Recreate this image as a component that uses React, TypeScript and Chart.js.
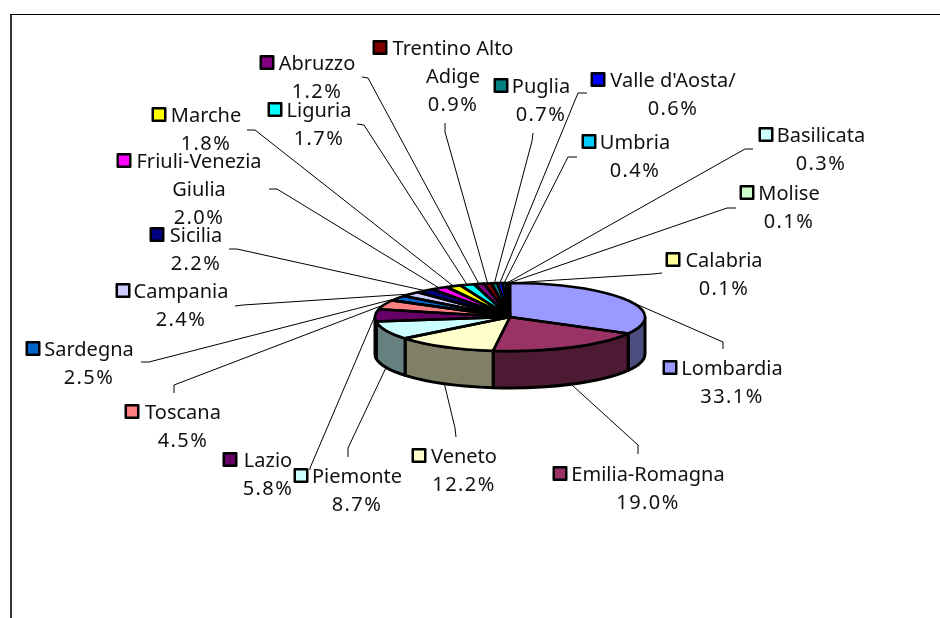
import React, { useEffect, useRef } from "react";
import { Chart, registerables } from "chart.js";

Chart.register(...registerables);

const categories = ["Lombardia","Emilia-Romagna","Veneto","Piemonte","Lazio","Toscana","Sardegna","Campania","Sicilia","Friuli-Venezia Giulia","Marche","Liguria","Abruzzo","Trentino Alto Adige","Puglia","Valle d'Aosta/","Umbria","Basilicata","Molise","Calabria"];
const shareValues = [33.1,19.0,12.2,8.7,5.8,4.5,2.5,2.4,2.2,2.0,1.8,1.7,1.2,0.9,0.7,0.6,0.4,0.3,0.1,0.1];
const percentLabels = ["33.1%","19.0%","12.2%","8.7%","5.8%","4.5%","2.5%","2.4%","2.2%","2.0%","1.8%","1.7%","1.2%","0.9%","0.7%","0.6%","0.4%","0.3%","0.1%","0.1%"];
const nameLines: string[][] = [["Lombardia"],["Emilia-Romagna"],["Veneto"],["Piemonte"],["Lazio"],["Toscana"],["Sardegna"],["Campania"],["Sicilia"],["Friuli-Venezia","Giulia"],["Marche"],["Liguria"],["Abruzzo"],["Trentino Alto","Adige"],["Puglia"],["Valle d'Aosta/"],["Umbria"],["Basilicata"],["Molise"],["Calabria"]];
const sliceColors = ["#9999FF","#993366","#FFFFCC","#CCFFFF","#660066","#FF8080","#0066CC","#CCCCFF","#000080","#FF00FF","#FFFF00","#00FFFF","#800080","#800000","#008080","#0000FF","#00CCFF","#CCFFFF","#CCFFCC","#FFFF99"];

// layout: [text centre x, first line centre y, key centre x]
const labelPlaces: number[][] = [[732,368,670],[648,474,560],[464,456,419],[357,476,301],[268,460,230],[183,412,132],[89,349,33],[181,291,123],[196,235,157],[199,161,124],[206,115,159],[319,110,275],[317,63,267],[453,48,380],[541,86,501],[673,80,598],[635,142,589],[821,135,766],[789,193,747],[724,260,673]];
// layout: leader stub, outer end then elbow
const leaderStubs: number[][] = [[723,349,723,342],[638,454,638,445],[456,437,455,428],[348,457,348,448],[310,470,310,468],[174,393,174,385],[141,362,149,362],[235,306,243,305],[229,249,237,249],[269,189,277,189],[247,130,255,130],[357,124,364,125],[362,77,368,78],[445,123,445,132],[533,133,532,141],[587,93,578,93],[577,157,568,157],[753,149,745,149],[736,208,727,208],[662,273,653,274]];

const CX = 510, CY = 317, RX = 135, RY = 34, DEPTH = 37;
const FONT = '20px "Noto Sans"';
const LINE_H = 28;

function halfShade(hex: string) {
  const n = parseInt(hex.slice(1), 16);
  const c = (v: number) => Math.round(v * 0.5);
  return `rgb(${c((n >> 16) & 255)},${c((n >> 8) & 255)},${c(n & 255)})`;
}

const pie3d = {
  id: "pie3d",
  beforeDatasetsDraw(chart: any) {
    const ctx = chart.ctx as CanvasRenderingContext2D;
    const arcs = chart.getDatasetMeta(0).data;
    // frame
    ctx.save();
    ctx.strokeStyle = "#333333";
    ctx.lineWidth = 2;
    ctx.beginPath(); ctx.moveTo(11, 618); ctx.lineTo(11, 14); ctx.stroke();
    ctx.strokeStyle = "#000000";
    ctx.lineWidth = 1;
    ctx.beginPath(); ctx.moveTo(10, 14.5); ctx.lineTo(940, 14.5); ctx.stroke();
    // leaders
    ctx.strokeStyle = "#000";
    ctx.lineWidth = 1;
    arcs.forEach((arc: any, i: number) => {
      const mid = (arc.startAngle + arc.endAngle) / 2;
      const c = Math.sin(mid);
      const px = CX + RX * Math.cos(mid);
      const py = CY + RY * c + (c > 0 ? DEPTH : 0);
      const s = leaderStubs[i];
      ctx.beginPath();
      ctx.moveTo(s[0], s[1]); ctx.lineTo(s[2], s[3]); ctx.lineTo(px, py);
      ctx.stroke();
    });
    // walls
    ctx.lineWidth = 3;
    ctx.strokeStyle = "#000";
    ctx.lineJoin = "round";
    arcs.forEach((arc: any, i: number) => {
      const twoPi = Math.PI * 2;
      for (const shift of [0, twoPi, -twoPi]) {
        const a = Math.max(arc.startAngle + shift, 0);
        const b = Math.min(arc.endAngle + shift, Math.PI);
        if (b <= a) continue;
        ctx.beginPath();
        ctx.ellipse(CX, CY, RX, RY, 0, a, b);
        ctx.ellipse(CX, CY + DEPTH, RX, RY, 0, b, a, true);
        ctx.closePath();
        ctx.fillStyle = halfShade(sliceColors[i]);
        ctx.fill();
        ctx.stroke();
      }
    });
    ctx.restore();
    // flatten the library's own slices
    ctx.save();
    ctx.translate(0, CY);
    ctx.scale(1, RY / RX);
    ctx.translate(0, -CY);
  },
  afterDatasetsDraw(chart: any) {
    const ctx = chart.ctx as CanvasRenderingContext2D;
    ctx.restore();
    const arcs = chart.getDatasetMeta(0).data;
    ctx.save();
    ctx.lineWidth = 2.6;
    ctx.strokeStyle = "#000";
    ctx.lineJoin = "round";
    arcs.forEach((arc: any) => {
      ctx.beginPath();
      ctx.moveTo(CX, CY);
      ctx.ellipse(CX, CY, RX, RY, 0, arc.startAngle, arc.endAngle);
      ctx.closePath();
      ctx.stroke();
    });
    // labels
    ctx.font = FONT;
    ctx.textAlign = "center";
    ctx.textBaseline = "middle";
    categories.forEach((_, i) => {
      const [tx, ty, kx] = labelPlaces[i];
      const textY = ty + 1;
      ctx.fillStyle = "#111";
      const names = nameLines[i];
      (ctx as any).letterSpacing = "0px";
      names.forEach((t, k) => ctx.fillText(t, tx, textY + k * LINE_H));
      (ctx as any).letterSpacing = "1.4px";
      ctx.fillText(percentLabels[i], tx, textY + names.length * LINE_H);
      (ctx as any).letterSpacing = "0px";
      ctx.fillStyle = sliceColors[i];
      ctx.lineWidth = 2.5;
      ctx.strokeStyle = "#000";
      ctx.beginPath();
      ctx.rect(kx - 6.25, ty - 6.75, 12.5, 12.5);
      ctx.fill();
      ctx.stroke();
    });
    ctx.restore();
  },
};

export default function App() {
  const ref = useRef<HTMLCanvasElement>(null);
  useEffect(() => {
    const chart = new Chart(ref.current!, {
      type: "pie",
      data: {
        labels: categories,
        datasets: [{ data: shareValues, backgroundColor: sliceColors, borderWidth: 0, clip: false } as any],
      },
      options: {
        animation: false,
        responsive: false,
        layout: { padding: { left: CX - RX, right: 940 - CX - RX, top: CY - RX, bottom: 618 - CY - RX } },
        plugins: { legend: { display: false }, tooltip: { enabled: false } },
      },
      plugins: [pie3d as any],
    });
    return () => chart.destroy();
  }, []);
  return (
    <div style={{ position: "absolute", left: 0, top: 0, width: 940, height: 618, background: "#fff" }}>
      <canvas ref={ref} width={940} height={618} style={{ display: "block" }} />
    </div>
  );
}
